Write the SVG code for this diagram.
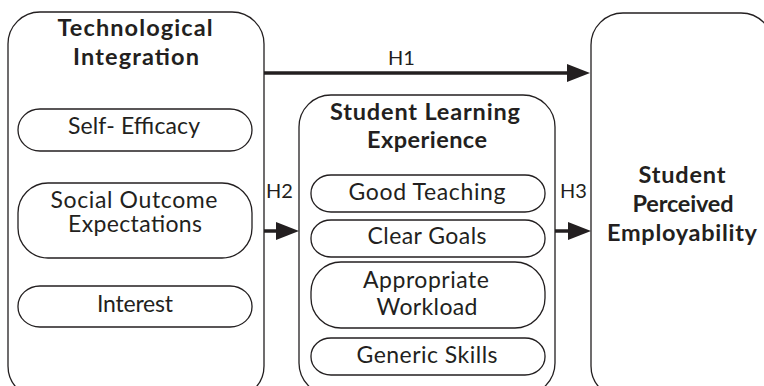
<svg xmlns="http://www.w3.org/2000/svg" width="764" height="386" viewBox="0 0 764 386">
  <style>
    .box { fill: #fff; stroke: #231f20; stroke-width: 1.3; }
    .pill { fill: #fff; stroke: #231f20; stroke-width: 1.3; }
    .title { font-family: Lato, "Open Sans", sans-serif; font-weight: bold; font-size: 23.5px; fill: #231f20; text-anchor: middle; }
    .item { font-family: Lato, "Open Sans", sans-serif; font-size: 23px; fill: #231f20; text-anchor: middle; }
    .lbl { font-family: Lato, "Open Sans", sans-serif; font-size: 20px; fill: #231f20; }
    .link { stroke: #231f20; stroke-width: 3.5; fill: none; }
  </style>
  <defs>
    <marker id="head" markerUnits="userSpaceOnUse" markerWidth="24" markerHeight="18" refX="0" refY="9" orient="auto">
      <path d="M0,0 L23,9 L0,18 Z" fill="#231f20"/>
    </marker>
  </defs>
  <rect width="764" height="386" fill="#fff"/>

  <g id="technological-integration">
    <rect class="box" x="8" y="12" width="256" height="386" rx="32" ry="32"/>
    <text class="title" x="135" y="36" textLength="155" lengthAdjust="spacing">Technological</text>
    <text class="title" x="136" y="65" textLength="126" lengthAdjust="spacing">Integration</text>
    <rect class="pill" x="18" y="109" width="234" height="42" rx="22" ry="21"/>
    <text class="item" x="134" y="134" textLength="132" lengthAdjust="spacing">Self- Efficacy</text>
    <rect class="pill" x="18" y="183" width="234" height="75" rx="30" ry="30"/>
    <text class="item" x="134" y="208" textLength="167" lengthAdjust="spacing">Social Outcome</text>
    <text class="item" x="135" y="232" textLength="134" lengthAdjust="spacing">Expectations</text>
    <rect class="pill" x="18" y="286" width="234" height="41" rx="22" ry="20"/>
    <text class="item" x="135" y="312" textLength="76" lengthAdjust="spacing">Interest</text>
  </g>

  <g id="student-learning-experience">
    <rect class="box" x="299" y="95" width="256" height="300" rx="32" ry="32"/>
    <text class="title" x="425" y="120" textLength="190" lengthAdjust="spacing">Student Learning</text>
    <text class="title" x="427" y="148" textLength="120" lengthAdjust="spacing">Experience</text>
    <rect class="pill" x="311" y="175" width="234" height="37" rx="20" ry="18"/>
    <text class="item" x="427" y="200" textLength="157" lengthAdjust="spacing">Good Teaching</text>
    <rect class="pill" x="311" y="220" width="234" height="37" rx="20" ry="18"/>
    <text class="item" x="427" y="244" textLength="119" lengthAdjust="spacing">Clear Goals</text>
    <rect class="pill" x="311" y="262" width="234" height="66" rx="30" ry="30"/>
    <text class="item" x="426" y="288" textLength="126" lengthAdjust="spacing">Appropriate</text>
    <text class="item" x="427" y="315" textLength="101" lengthAdjust="spacing">Workload</text>
    <rect class="pill" x="311" y="338" width="234" height="37" rx="20" ry="18"/>
    <text class="item" x="427" y="363" textLength="141" lengthAdjust="spacing">Generic Skills</text>
  </g>

  <g id="student-perceived-employability">
    <rect class="box" x="591" y="13" width="182" height="385" rx="32" ry="32"/>
    <text class="title" x="682" y="183" textLength="87" lengthAdjust="spacing">Student</text>
    <text class="title" x="683" y="212" textLength="101" lengthAdjust="spacing">Perceived</text>
    <text class="title" x="682" y="241" textLength="150" lengthAdjust="spacing">Employability</text>
  </g>

  <g id="connectors">
    <line class="link" x1="264" y1="73" x2="567" y2="73" marker-end="url(#head)"/>
    <text class="lbl" x="388" y="65">H1</text>
    <line class="link" x1="264" y1="231" x2="276" y2="231" marker-end="url(#head)"/>
    <text class="lbl" x="266" y="198">H2</text>
    <line class="link" x1="555" y1="231" x2="568" y2="231" marker-end="url(#head)"/>
    <text class="lbl" x="560" y="198">H3</text>
  </g>
</svg>
